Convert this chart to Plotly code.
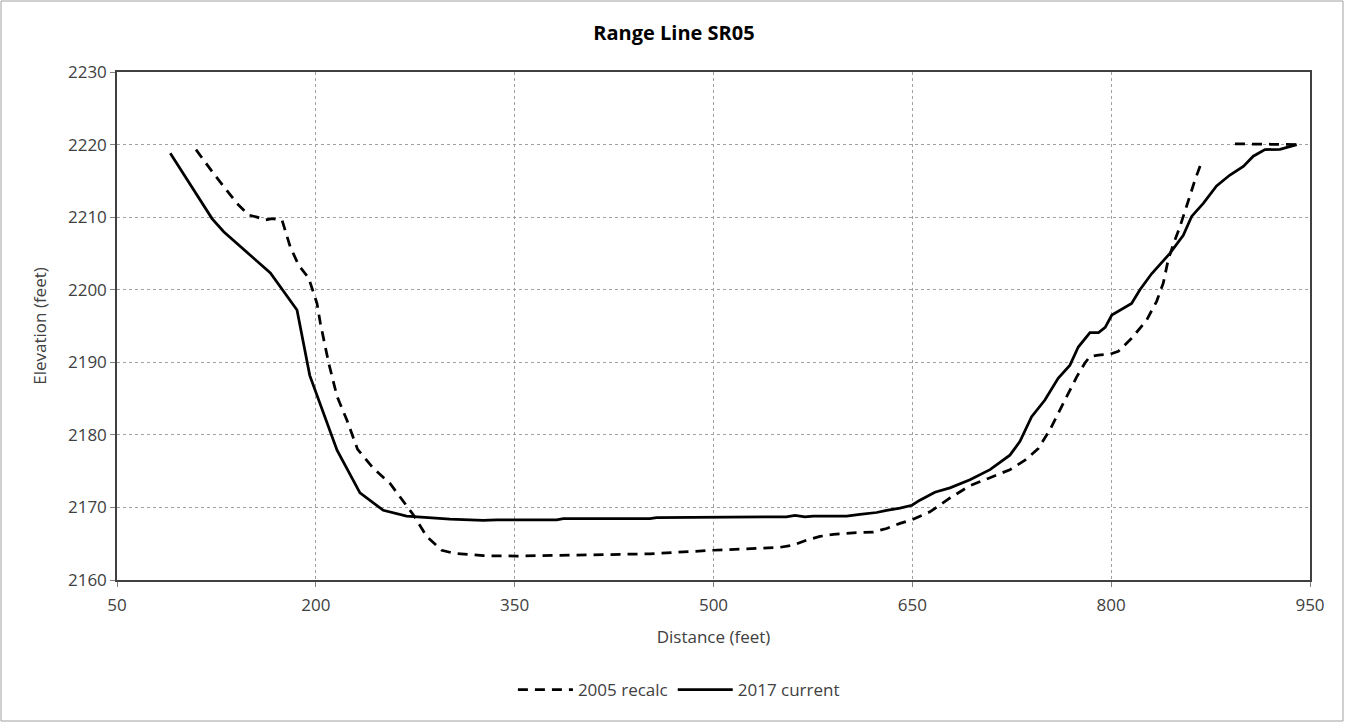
import plotly.graph_objects as go

# 2005 recalc (dashed) — None marks a gap in the survey line
x2005 = [109.6, 122.9, 140.5, 149.3, 155.6, 161.9, 166.9, 174.5, 180.7, 187.0, 194.6, 200.9,
         203.4, 209.7, 216.0, 223.5, 231.5, 243.4, 256.0, 266.0, 273.5, 283.6, 295.0, 303.7,
         326.3, 351.5, 401.8, 452.0, 499.9, 550.0, 560.2, 570.3, 580.3, 590.4, 605.5, 620.5,
         630.6, 640.7, 649.7, 663.3, 678.4, 693.5, 708.6, 723.6, 735.0, 745.0, 753.8, 760.0,
         767.7, 774.0, 780.2, 784.0, 790.3, 799.1, 805.4, 815.4, 826.7, 834.3, 839.3, 843.0,
         846.8, 851.9, 856.9, 863.2, 868.2, None, 893.4, 940.0]
y2005 = [2219.3, 2216.0, 2211.9, 2210.3, 2210.0, 2209.6, 2209.8, 2209.6, 2205.9, 2203.4, 2201.6, 2198.1,
         2195.4, 2189.9, 2185.3, 2182.0, 2178.0, 2175.4, 2173.3, 2170.8, 2169.0, 2166.0, 2164.1, 2163.7,
         2163.35, 2163.3, 2163.4, 2163.6, 2164.1, 2164.5, 2164.8, 2165.5, 2166.0, 2166.3, 2166.5, 2166.6,
         2167.1, 2167.8, 2168.3, 2169.4, 2171.3, 2173.0, 2174.1, 2175.2, 2176.5, 2178.1, 2180.7, 2183.0,
         2185.7, 2188.0, 2189.9, 2190.8, 2191.0, 2191.1, 2191.5, 2193.3, 2195.8, 2198.4, 2200.9, 2204.1,
         2206.2, 2208.7, 2211.5, 2215.1, 2217.6, None, 2220.1, 2220.0]

# 2017 current (solid)
x2017 = [90.2, 121.7, 130.5, 165.7, 185.8, 195.4, 216.0, 233.3, 250.9, 268.5, 301.2, 326.3,
         336.4, 381.7, 386.7, 452.0, 457.0, 520.0, 525.0, 555.0, 561.5, 569.0, 575.3, 600.4,
         610.5, 623.0, 630.6, 640.7, 649.7, 655.7, 667.0, 678.4, 693.5, 708.6, 723.6, 731.2,
         740.0, 750.0, 760.0, 768.9, 775.2, 784.0, 790.5, 795.5, 800.5, 806.6, 815.4, 821.7,
         830.5, 844.3, 854.4, 860.7, 869.5, 879.5, 889.6, 899.7, 907.2, 916.0, 927.4, 940.0]
y2017 = [2218.8, 2209.8, 2208.0, 2202.3, 2197.2, 2188.2, 2177.9, 2172.0, 2169.6, 2168.8, 2168.4, 2168.2,
         2168.3, 2168.3, 2168.45, 2168.45, 2168.6, 2168.6, 2168.7, 2168.7, 2168.9, 2168.7, 2168.8, 2168.8,
         2169.05, 2169.3, 2169.6, 2169.9, 2170.3, 2171.0, 2172.1, 2172.7, 2173.8, 2175.2, 2177.2, 2179.1,
         2182.5, 2184.8, 2187.8, 2189.6, 2192.1, 2194.1, 2194.1, 2194.8, 2196.5, 2197.2, 2198.1, 2200.0,
         2202.2, 2205.0, 2207.5, 2210.1, 2211.9, 2214.3, 2215.8, 2217.0, 2218.4, 2219.3, 2219.35, 2220.0]

x_ticks = [50, 200, 350, 500, 650, 800, 950]
y_ticks = [2160, 2170, 2180, 2190, 2200, 2210, 2220, 2230]

FONT = "'Open Sans', Calibri, sans-serif"
TXT = "#404040"

fig = go.Figure()
fig.add_trace(go.Scatter(x=x2005, y=y2005, mode="lines", name="2005 recalc",
                         line=dict(color="black", width=2.75, dash="10px,7px"),
                         connectgaps=False))
fig.add_trace(go.Scatter(x=x2017, y=y2017, mode="lines", name="2017 current",
                         line=dict(color="black", width=2.75)))

W, H = 1345, 723
L, R, T, B = 117, 35, 72, 143
pw, ph = W - L - R, H - T - B

fig.update_layout(
    width=W, height=H,
    margin=dict(l=L, r=R, t=T, b=B),
    paper_bgcolor="white", plot_bgcolor="white",
    font=dict(family=FONT, size=17, color=TXT),
    title=dict(text="<b>Range Line SR05</b>", x=674 / W, xanchor="center",
               y=1 - 33 / H, yanchor="middle",
               font=dict(size=20, family=FONT, color="#000000")),
    showlegend=True,
    legend=dict(orientation="h", x=0.471, xanchor="center", y=(ph - (690 - T)) / ph,
                yanchor="middle", font=dict(size=17, color=TXT), itemwidth=55,
                tracegroupgap=0),
    shapes=[dict(type="rect", xref="paper", yref="paper",
                 x0=(1 - L) / pw, x1=(W - 2 - L) / pw,
                 y0=(ph - (H - 2 - T)) / ph, y1=(ph - (1 - T)) / ph,
                 line=dict(color="#a0a0a0", width=1), layer="below")],
)
fig.update_xaxes(range=[50, 950], tickvals=x_ticks, showgrid=True,
                 gridcolor="#a0a0a0", griddash="dot", gridwidth=1,
                 showline=True, linecolor="#404040", linewidth=1.5, mirror=True,
                 ticks="outside", ticklen=5, tickcolor="#808080",
                 ticklabelstandoff=4,
                 zeroline=False, tickfont=dict(size=17, color=TXT),
                 title=dict(text="Distance (feet)", font=dict(size=17, color=TXT), standoff=16))
fig.update_yaxes(range=[2160, 2230], tickvals=y_ticks, showgrid=True,
                 gridcolor="#a0a0a0", griddash="dot", gridwidth=1,
                 showline=True, linecolor="#404040", linewidth=1.5, mirror=True,
                 ticks="outside", ticklen=5, tickcolor="#808080",
                 zeroline=False, tickfont=dict(size=17, color=TXT),
                 title=dict(text="Elevation (feet)", font=dict(size=17, color=TXT), standoff=17))

fig.write_html("out.html", post_script="document.body.style.margin='0';",
               config={"displayModeBar": False})
